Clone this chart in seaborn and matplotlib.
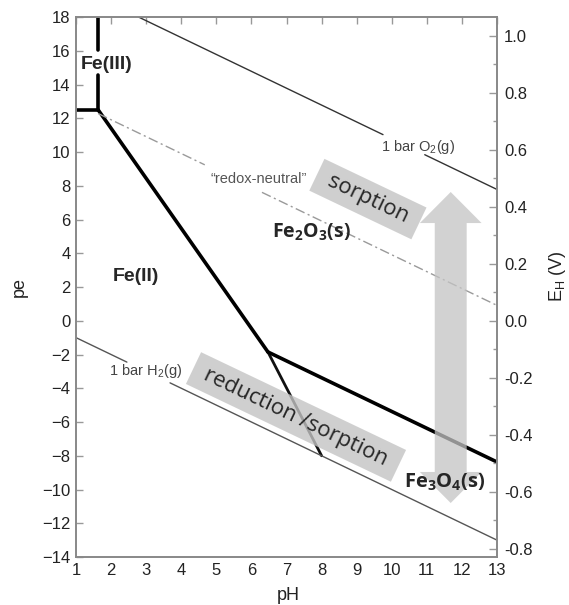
import numpy as np
import pandas as pd
import matplotlib
matplotlib.use("Agg")
import matplotlib.pyplot as plt
import matplotlib.ticker as mticker
from matplotlib.patches import Polygon
import seaborn as sns

# ---------------- data (pH, pe) ----------------
ph_fe3_fe2 = [1.0, 1.63];    pe_fe3_fe2 = [12.5, 12.5]
ph_fe3_hem_a = [1.63, 1.63]; pe_fe3_hem_a = [12.5, 14.56]
ph_fe3_hem_b = [1.63, 1.63]; pe_fe3_hem_b = [16.04, 18.0]
ph_fe2_hem = [1.63, 6.47];   pe_fe2_hem = [12.5, -1.85]
ph_fe2_mag = [6.47, 8.0];    pe_fe2_mag = [-1.85, -8.0]
ph_hem_mag = [6.47, 13.0];   pe_hem_mag = [-1.85, -8.37]

ph_o2_a = [2.78, 9.75];   pe_o2_a = [18.0, 11.03]
ph_o2_b = [10.94, 13.0];  pe_o2_b = [9.84, 7.78]
ph_h2_a = [1.0, 2.45];    pe_h2_a = [-1.0, -2.45]
ph_h2_b = [3.68, 13.0];   pe_h2_b = [-3.68, -13.0]
ph_rn_a = [1.63, 4.67];   pe_rn_a = [12.28, 9.24]
ph_rn_b = [6.30, 13.0];   pe_rn_b = [7.61, 0.91]

arrow_ph = 11.68
arrow_pe_bottom = -10.8
arrow_pe_top = 7.63

x_ticks = list(range(1, 14))
pe_ticks = list(range(-14, 19, 2))
eh_ticks = [-0.8, -0.6, -0.4, -0.2, 0.0, 0.2, 0.4, 0.6, 0.8, 1.0]
EH_PER_PE = 0.05916

# ---------------- style ----------------
sns.set_theme(style="white")
plt.rcParams["font.family"] = ["Liberation Sans", "DejaVu Sans"]
plt.rcParams["mathtext.fontset"] = "custom"
plt.rcParams["mathtext.rm"] = "Liberation Sans"
plt.rcParams["mathtext.it"] = "Liberation Sans:italic"
plt.rcParams["mathtext.bf"] = "Open Sans:bold"

fig = plt.figure(figsize=(5.69, 6.05), dpi=100)
ax = fig.add_axes([0.1336, 0.0793, 0.7399, 0.8926])

def seg(xs, ys, **kw):
    df = pd.DataFrame({"pH": xs, "pe": ys})
    sns.lineplot(data=df, x="pH", y="pe", ax=ax, sort=False, estimator=None, **kw)

thick = dict(color="black", linewidth=2.6)
seg(ph_fe3_fe2, pe_fe3_fe2, **thick)
seg(ph_fe3_hem_a, pe_fe3_hem_a, **thick)
seg(ph_fe3_hem_b, pe_fe3_hem_b, **thick)
seg(ph_fe2_hem, pe_fe2_hem, **thick)
seg(ph_fe2_mag, pe_fe2_mag, color="#111111", linewidth=2.0)
seg(ph_hem_mag, pe_hem_mag, **thick)

thin = dict(color="#333333", linewidth=1.0)
seg(ph_o2_a, pe_o2_a, **thin)
seg(ph_o2_b, pe_o2_b, **thin)
seg(ph_h2_a, pe_h2_a, color="#555555", linewidth=1.0)
seg(ph_h2_b, pe_h2_b, color="#555555", linewidth=1.0)
rn = dict(color="#9a9a9a", linewidth=1.0, linestyle=(0, (7, 2.5, 1.5, 2.5)))
seg(ph_rn_a, pe_rn_a, **rn)
seg(ph_rn_b, pe_rn_b, **rn)

ax.set_xlim(1, 13)
ax.set_ylim(-14, 18)

# double-headed arrow (in data coords)
shaft_hw = 0.455   # pH half-width of shaft
head_hw = 0.88     # pH half-width of head
head_len = 1.84    # pe length of head
x0 = arrow_ph
yb, yt = arrow_pe_bottom, arrow_pe_top
verts = [
    (x0, yt), (x0 + head_hw, yt - head_len), (x0 + shaft_hw, yt - head_len),
    (x0 + shaft_hw, yb + head_len), (x0 + head_hw, yb + head_len), (x0, yb),
    (x0 - head_hw, yb + head_len), (x0 - shaft_hw, yb + head_len),
    (x0 - shaft_hw, yt - head_len), (x0 - head_hw, yt - head_len),
]
ax.add_patch(Polygon(verts, closed=True, facecolor="#c4c4c4", edgecolor="none",
                     alpha=0.75, zorder=5))

# boxed rotated labels
box = dict(boxstyle="square,pad=0.32", facecolor="#c4c4c4", edgecolor="none", alpha=0.8)
ax.text(9.32, 7.21, " sorption ", rotation=-25.5, rotation_mode="anchor",
        ha="center", va="center", fontsize=16, family=["Open Sans", "DejaVu Sans"],
        bbox=box, zorder=6)
ax.text(7.27, -5.7, " reduction /sorption ", rotation=-25.5, rotation_mode="anchor",
        ha="center", va="center", fontsize=16, family=["Open Sans", "DejaVu Sans"],
        bbox=box, zorder=6)

# region labels
ax.text(1.86, 15.2, "Fe(III)", fontsize=14, fontweight="bold", ha="center", va="center", zorder=7)
ax.text(2.71, 2.6, "Fe(II)", fontsize=14, fontweight="bold", ha="center", va="center", zorder=7)
ax.text(7.72, 5.26, r"$\mathbf{Fe_2O_3(s)}$", fontsize=14, ha="center", va="center", zorder=7)
ax.text(11.51, -9.6, r"$\mathbf{Fe_3O_4(s)}$", fontsize=14.5, ha="center", va="center", zorder=7)

# line labels
ax.text(10.74, 10.3, r"1 bar O$_2$(g)", fontsize=10.5, color="#444444", ha="center", va="center")
ax.text(2.99, -2.98, r"1 bar H$_2$(g)", fontsize=10.5, color="#444444", ha="center", va="center")
ax.text(6.2, 8.4, "\u201credox-neutral\u201d", fontsize=10.5, color="#555555", ha="center", va="center")

# axes styling
for s in ax.spines.values():
    s.set_visible(True)
    s.set_color("#888888")
    s.set_linewidth(1.2)

ax.set_xticks(x_ticks)
ax.set_yticks(pe_ticks)
ax.yaxis.set_major_formatter(mticker.FuncFormatter(lambda v, p: f"{int(round(v))}".replace("-", "\u2212")))
ax.tick_params(axis="both", which="major", direction="in", length=5, width=1,
               color="#999999", labelsize=12, labelcolor="#222222",
               top=True, right=False)
ax.tick_params(axis="y", pad=4)
ax.tick_params(axis="x", pad=4)
ax.set_xlabel("pH", fontsize=13, color="#222222")
ax.set_ylabel("pe", fontsize=13, color="#222222")
ax.xaxis.set_label_coords(0.504, -0.055)
ax.yaxis.set_label_coords(-0.114, 0.5)

ax2 = ax.twinx()
ax2.set_position(ax.get_position())
ax2.set_ylim(-14 * EH_PER_PE, 18 * EH_PER_PE)
ax2.set_yticks(eh_ticks)
ax2.yaxis.set_minor_locator(mticker.MultipleLocator(0.1))
ax2.yaxis.set_major_formatter(mticker.FuncFormatter(lambda v, p: f"{(round(v, 1) + 0.0):.1f}"))
ax2.tick_params(axis="y", which="major", direction="in", length=6, width=1,
                color="#999999", labelsize=12, labelcolor="#222222", pad=5)
ax2.tick_params(axis="y", which="minor", direction="in", length=3, width=1, color="#999999")
for s in ax2.spines.values():
    s.set_visible(True)
    s.set_color("#888888")
    s.set_linewidth(1.2)
ax2.set_ylabel(r"E$_\mathrm{H}$ (V)", fontsize=13, color="#222222")
ax2.yaxis.set_label_coords(1.119, 0.52)
ax2.grid(False)
ax.grid(False)

fig.savefig("out.png", dpi=100, facecolor="white")
